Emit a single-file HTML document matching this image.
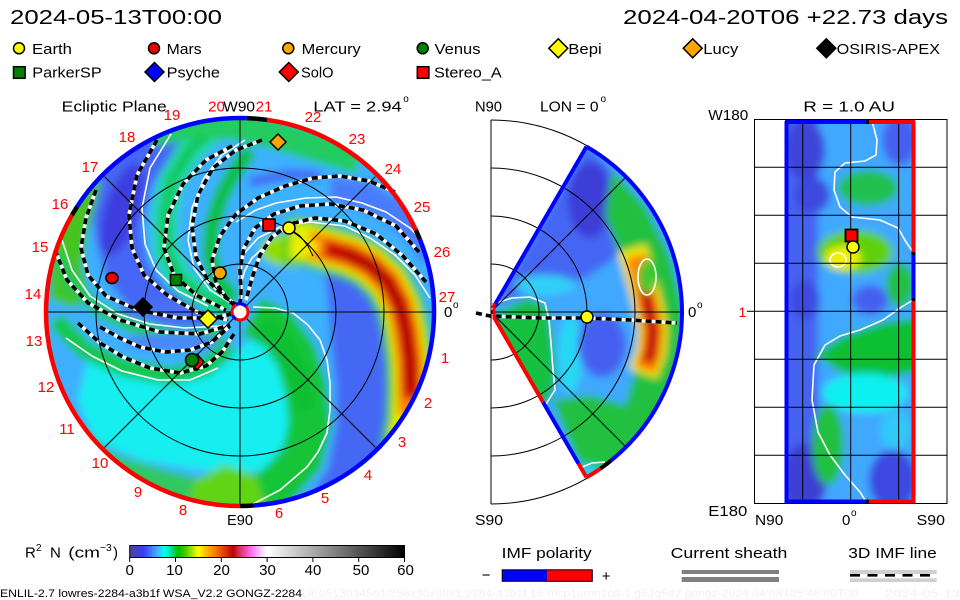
<!DOCTYPE html>
<html><head><meta charset="utf-8"><style>
html,body{margin:0;padding:0;background:#fff;}
svg{display:block;}
text{font-family:"Liberation Sans",Arial,sans-serif;}
.wl{fill:none;stroke:#fff;stroke-width:3.6;stroke-linejoin:round;}
.dl{fill:none;stroke:#000;stroke-width:3.6;stroke-dasharray:6 4;}
.wc{fill:none;stroke:#fff;stroke-width:1.6;stroke-linejoin:round;}
.gl{fill:none;stroke:#000;stroke-width:1;}
.rn{fill:#f00;font-size:15px;text-anchor:middle;}
</style></head><body>
<svg width="960" height="600" viewBox="0 0 960 600" xmlns="http://www.w3.org/2000/svg">
<defs>
<clipPath id="cDisk"><circle cx="240" cy="312" r="194"/></clipPath>
<clipPath id="cWedge"><path d="M491,312 L586.5,146.6 A191 191 0 0 1 586.5,477.4 Z"/></clipPath>
<clipPath id="cRect"><rect x="786" y="121" width="128" height="382"/></clipPath>
<filter id="bl" x="-10%" y="-10%" width="120%" height="120%"><feGaussianBlur stdDeviation="4"/></filter>
<linearGradient id="cmap" x1="0" x2="1" y1="0" y2="0">
<stop offset="0" stop-color="#484890"/>
<stop offset="0.025" stop-color="#4040c8"/>
<stop offset="0.05" stop-color="#3c3cf0"/>
<stop offset="0.075" stop-color="#4070ff"/>
<stop offset="0.1" stop-color="#40b0ff"/>
<stop offset="0.125" stop-color="#00ffff"/>
<stop offset="0.15" stop-color="#00e0a0"/>
<stop offset="0.175" stop-color="#00c000"/>
<stop offset="0.2" stop-color="#40c800"/>
<stop offset="0.225" stop-color="#a0e000"/>
<stop offset="0.25" stop-color="#ffff00"/>
<stop offset="0.275" stop-color="#ffc000"/>
<stop offset="0.3" stop-color="#ff9000"/>
<stop offset="0.325" stop-color="#f06000"/>
<stop offset="0.35" stop-color="#e03000"/>
<stop offset="0.375" stop-color="#c00000"/>
<stop offset="0.4" stop-color="#d83060"/>
<stop offset="0.425" stop-color="#f050c0"/>
<stop offset="0.45" stop-color="#ff80ff"/>
<stop offset="0.475" stop-color="#ffc8ff"/>
<stop offset="0.5" stop-color="#ffffff"/>
<stop offset="1" stop-color="#000000"/>
</linearGradient>
</defs>

<!-- ===== Header ===== -->
<text x="10" y="24" font-size="20" textLength="212" lengthAdjust="spacingAndGlyphs">2024-05-13T00:00</text>
<text x="623" y="24" font-size="20" textLength="325" lengthAdjust="spacingAndGlyphs">2024-04-20T06 +22.73 days</text>

<!-- ===== Legend ===== -->
<g stroke="#000" stroke-width="1.5">
<circle cx="19" cy="48.3" r="5.5" fill="#ffff00"/>
<circle cx="154" cy="48.3" r="5.5" fill="#ee0000"/>
<circle cx="288.3" cy="48.3" r="5.5" fill="#ffa500"/>
<circle cx="422.7" cy="48.3" r="5.5" fill="#008000"/>
<path d="M558.3,38.8 L567.8,48.3 L558.3,57.8 L548.8,48.3 Z" fill="#ffff00"/>
<path d="M692.7,38.8 L702.2,48.3 L692.7,57.8 L683.2,48.3 Z" fill="#ffa500"/>
<path d="M826.3,38.8 L835.8,48.3 L826.3,57.8 L816.8,48.3 Z" fill="#000"/>
<rect x="13.5" y="66.7" width="11.6" height="11.6" fill="#008000"/>
<path d="M154.5,62.5 L164,72 L154.5,81.5 L145,72 Z" fill="#0000ff"/>
<path d="M288.8,62.5 L298.3,72 L288.8,81.5 L279.3,72 Z" fill="#ff0000"/>
<rect x="417.3" y="66.7" width="11.6" height="11.6" fill="#ff0000"/>
</g>
<g font-size="15">
<text x="32" y="54" textLength="40" lengthAdjust="spacingAndGlyphs">Earth</text>
<text x="166.7" y="54" textLength="35" lengthAdjust="spacingAndGlyphs">Mars</text>
<text x="301.7" y="54" textLength="59" lengthAdjust="spacingAndGlyphs">Mercury</text>
<text x="434.5" y="54" textLength="46" lengthAdjust="spacingAndGlyphs">Venus</text>
<text x="568.3" y="54" textLength="33.4" lengthAdjust="spacingAndGlyphs">Bepi</text>
<text x="703.3" y="54" textLength="35" lengthAdjust="spacingAndGlyphs">Lucy</text>
<text x="836.7" y="54" textLength="103.3" lengthAdjust="spacingAndGlyphs">OSIRIS-APEX</text>
<text x="32.3" y="77.7" textLength="69.4" lengthAdjust="spacingAndGlyphs">ParkerSP</text>
<text x="166.7" y="77.7" textLength="53.3" lengthAdjust="spacingAndGlyphs">Psyche</text>
<text x="301" y="77.7" textLength="32.5" lengthAdjust="spacingAndGlyphs">SolO</text>
<text x="434" y="77.7" textLength="67.7" lengthAdjust="spacingAndGlyphs">Stereo_A</text>
</g>

<!-- ===== Titles ===== -->
<g font-size="15">
<text x="61.7" y="111.5" textLength="105" lengthAdjust="spacingAndGlyphs">Ecliptic Plane</text>
<text x="223.3" y="111.5" textLength="31.7" lengthAdjust="spacingAndGlyphs">W90</text>
<text x="313.3" y="111.5" textLength="88.4" lengthAdjust="spacingAndGlyphs">LAT = 2.94</text>
<text x="403.3" y="102" font-size="10">o</text>
<text x="475" y="111.5" textLength="27" lengthAdjust="spacingAndGlyphs">N90</text>
<text x="540" y="111.5" textLength="58.5" lengthAdjust="spacingAndGlyphs">LON = 0</text>
<text x="600.5" y="102" font-size="10">o</text>
<text x="803.3" y="111.5" textLength="91.7" lengthAdjust="spacingAndGlyphs">R = 1.0 AU</text>
<text x="708.3" y="120" textLength="40" lengthAdjust="spacingAndGlyphs">W180</text>
</g>

<!-- ===== Left disk field ===== -->
<g clip-path="url(#cDisk)">
<g filter="url(#bl)">
<circle cx="240" cy="312" r="205" fill="#3cb0ff"/>
<!-- big cyan lower region -->
<path d="M90,350 L150,365 L220,368 L250,340 L275,352 L292,400 L298,450 L270,472 L200,470 L140,460 L95,440 L78,400 Z" fill="#14eef0"/>
<!-- bottom-left green along edge -->
<path d="M55,430 L90,465 L140,492 L200,510 L215,482 L165,470 L115,455 L75,425 Z" fill="#30c860"/>
<!-- upper-left blue -->
<path d="M82,186 L110,150 L150,128 L190,118 L202,126 L176,150 L152,185 L142,225 L147,262 L166,288 L200,306 L228,314 L200,328 L160,325 L128,306 L106,278 L97,245 L92,215 Z" fill="#4466f4"/>
<ellipse cx="122" cy="210" rx="17" ry="48" transform="rotate(18 122 210)" fill="#3c3ce0"/>
<path d="M48,265 L54,232 L68,205 L88,183 L102,178 L97,200 L87,235 L83,268 L90,295 L75,308 L50,300 Z" fill="#44c424"/>
<polyline points="215,128 190,150 172,180 165,215 166,250 178,277 200,296 230,310" fill="none" stroke="#20d8a8" stroke-width="26"/>
<polyline points="215,128 190,150 172,180 165,215 166,250 178,277 200,296 230,310" fill="none" stroke="#10c850" stroke-width="10"/>
<polyline points="250,150 236,170 222,195 212,225 210,255 218,280 234,300" fill="none" stroke="#10c040" stroke-width="16"/>
<polyline points="150,132 200,122 240,126 280,136 320,148 360,160" fill="none" stroke="#20cc60" stroke-width="30"/>
<polyline points="250,182 290,174 320,176" fill="none" stroke="#4466f4" stroke-width="10"/>
<path d="M330,176 L370,183 L400,200 L420,222 L432,258 L424,264 L404,238 L380,218 L350,206 L330,200 Z" fill="#4a7cfc"/>
<polyline points="58,255 72,285 100,310 135,327 180,337 222,333" fill="none" stroke="#20c858" stroke-width="14"/>
<polyline points="55,320 85,350 125,368 170,376 205,368 230,345" fill="none" stroke="#18c848" stroke-width="18"/>
<ellipse cx="160" cy="310" rx="40" ry="10" fill="#4a70f8"/>
<ellipse cx="172" cy="342" rx="48" ry="9" fill="#4a86fc"/>
<!-- lower-right big blue -->
<path d="M325,270 L345,268 L365,282 L382,305 L392,335 L397,370 L402,400 L420,430 L428,448 L405,472 L375,490 L340,502 L305,505 L328,468 L336,428 L336,385 L331,345 L328,300 Z" fill="#4468f4"/>
<!-- green arm -->
<polyline points="252,316 278,330 296,355 306,388 310,425 302,458 278,485 240,506" fill="none" stroke="#18c438" stroke-width="42"/>
<polyline points="262,325 284,345 298,375 306,410" fill="none" stroke="#10c030" stroke-width="20"/>
<path d="M195,480 L225,465 L255,475 L268,512 L225,512 L188,505 Z" fill="#62d412"/>
<ellipse cx="292" cy="250" rx="32" ry="17" fill="#90dc00"/>
<polyline points="285,240 305,242 325,248 350,255 370,265 388,282 400,305 406,330 410,360 411,390 410,420 404,452" fill="none" stroke="#40c820" stroke-width="48"/>
<polyline points="290,241 305,242 325,248 350,255 370,265 388,282 400,305 406,330 410,360 411,390 410,420 406,440" fill="none" stroke="#e0f000" stroke-width="36"/>
<polyline points="308,244 325,248 350,255 370,265 388,282 400,305 406,330 410,360 411,390 411,415" fill="none" stroke="#ff8000" stroke-width="27"/>
<polyline points="325,248 350,255 370,265 388,282 400,305 406,330 410,360 411,398" fill="none" stroke="#c80000" stroke-width="16"/>
<polyline points="345,254 370,265 388,282 400,305 406,330 410,360 411,385" fill="none" stroke="#b00000" stroke-width="6"/>
<ellipse cx="305" cy="247" rx="14" ry="7" fill="#f0f000"/>
</g>
</g>

<!-- disk overlays: white contours -->
<g class="wc">
<polyline points="253,307 275,308 293,313 308,325 320,340 327,360 330,383 330,410 327,433 318,452 307,467 280,490 253,504"/>
<polyline points="236,222 256,210 276,203 306,198 336,197 362,203 386,212 410,228 428,246"/>
<polyline points="240,258 258,238 282,226 310,222 345,226 370,238 395,255 415,275 430,298"/>
<polyline points="62,240 72,270 90,296 118,314 150,324 185,328 222,326"/>
<polyline points="66,338 92,356 122,371 158,380 190,380 218,368"/>
<polyline points="171,134 150,168 142,208 145,244 156,270 178,291 208,306"/>
<polyline points="240,287 245,270 252,258 262,249"/>
<polyline points="245,140 222,155 204,178 192,208 188,240 194,268 210,290 232,304"/>
</g>
<!-- dashed lines white base -->
<g class="wl">
<polyline points="395,192 369,181 340,176 313,178 285,186 258,198 236,214 220,236 212,260 216,283 228,300 238,308"/>
<polyline points="419,252 396,226 363,210 330,204 300,206 274,214 255,228 244,248 240,270 241,292 240,305"/>
<polyline points="426,282 403,256 376,234 345,221 315,218 290,224 272,237 260,255 252,278 246,300"/>
<polyline points="157,140 137,175 129,215 132,248 144,275 167,295 197,312 228,320"/>
<polyline points="232,146 206,160 183,184 168,215 164,248 174,275 196,295 226,310"/>
<polyline points="262,140 236,150 213,168 198,195 192,226 196,257 208,281 226,298 238,306"/>
<polyline points="55,250 67,280 88,303 120,320 160,332 200,334 230,325"/>
<polyline points="96,190 86,218 81,248 88,275 106,296 138,310 178,318 214,318 236,313"/>
<polyline points="78,323 100,343 123,357 150,368 180,373 206,366 222,352 234,334"/>
<polyline points="100,327 120,338 140,347 165,352 190,350 212,342 230,326"/>
</g>
<g class="dl">
<polyline points="395,192 369,181 340,176 313,178 285,186 258,198 236,214 220,236 212,260 216,283 228,300 238,308"/>
<polyline points="419,252 396,226 363,210 330,204 300,206 274,214 255,228 244,248 240,270 241,292 240,305"/>
<polyline points="426,282 403,256 376,234 345,221 315,218 290,224 272,237 260,255 252,278 246,300"/>
<polyline points="157,140 137,175 129,215 132,248 144,275 167,295 197,312 228,320"/>
<polyline points="232,146 206,160 183,184 168,215 164,248 174,275 196,295 226,310"/>
<polyline points="262,140 236,150 213,168 198,195 192,226 196,257 208,281 226,298 238,306"/>
<polyline points="55,250 67,280 88,303 120,320 160,332 200,334 230,325"/>
<polyline points="96,190 86,218 81,248 88,275 106,296 138,310 178,318 214,318 236,313"/>
<polyline points="78,323 100,343 123,357 150,368 180,373 206,366 222,352 234,334"/>
<polyline points="100,327 120,338 140,347 165,352 190,350 212,342 230,326"/>
</g>

<!-- disk grid -->
<g class="gl">
<circle cx="240" cy="312" r="48"/>
<circle cx="240" cy="312" r="96"/>
<circle cx="240" cy="312" r="144"/>
<line x1="46" y1="312" x2="434" y2="312"/>
<line x1="240" y1="118" x2="240" y2="506"/>
<line x1="104.6" y1="176.6" x2="375.4" y2="447.4"/>
<line x1="104.6" y1="447.4" x2="375.4" y2="176.6"/>
<polyline points="289,228 300,236 308,246 313,256" stroke-width="1"/>
</g>

<!-- disk markers -->
<g stroke="#000" stroke-width="1.5">
<path d="M278,134 L286,142 L278,150 L270,142 Z" fill="#ffa500"/>
<rect x="263" y="219" width="12" height="12" fill="#ff0000"/>
<circle cx="289" cy="228" r="6" fill="#ffff00"/>
<circle cx="220" cy="273" r="6" fill="#ffa500"/>
<rect x="170.5" y="274.5" width="11" height="11" fill="#008000"/>
<ellipse cx="112" cy="278" rx="6" ry="5.5" fill="#ee0000"/>
<path d="M143,298 L152,307 L143,316 L134,307 Z" fill="#000"/>
<path d="M208,310 L217,319 L208,328 L199,319 Z" fill="#ffff00"/>
<path d="M197,354 L204,362 L197,370 L190,362 Z" fill="#ff0000"/>
<circle cx="192" cy="360" r="6.5" fill="#008000"/>
</g>
<!-- sun -->
<circle cx="240" cy="312" r="8" fill="#fff" stroke="#ff0000" stroke-width="3"/>
<path d="M236,304.3 A8 8 0 0 1 246,306.5" fill="none" stroke="#0000ff" stroke-width="3"/>
<path d="M232.6,315.5 A8 8 0 0 0 236,319" fill="none" stroke="#0000ff" stroke-width="3"/>

<!-- disk border ring -->
<g fill="none" stroke-width="4.5">
<path d="M267,119.9 A194 194 0 0 1 415.8,230" stroke="#ff0000"/>
<path d="M415.8,230 A194 194 0 0 1 419.9,239.3" stroke="#000"/>
<path d="M419.9,239.3 A194 194 0 0 1 253.5,505.5" stroke="#0000ff"/>
<path d="M253.5,505.5 A194 194 0 0 1 240,506" stroke="#000"/>
<path d="M240,506 A194 194 0 0 1 72,215" stroke="#ff0000"/>
<path d="M72,215 A194 194 0 0 1 77.3,206.3" stroke="#000"/>
<path d="M77.3,206.3 A194 194 0 0 1 246.8,118.1" stroke="#0000ff"/>
<path d="M246.8,118.1 A194 194 0 0 1 267,119.9" stroke="#000"/>
</g>

<!-- disk labels -->
<g class="rn">
<text x="172" y="120">19</text>
<text x="216.5" y="111.5">20</text>
<text x="264" y="111.5">21</text>
<text x="313" y="122">22</text>
<text x="357" y="144">23</text>
<text x="393" y="174">24</text>
<text x="422" y="212">25</text>
<text x="442" y="257">26</text>
<text x="447" y="302">27</text>
<text x="445" y="363">1</text>
<text x="428" y="408">2</text>
<text x="402" y="447">3</text>
<text x="368" y="480">4</text>
<text x="325" y="503">5</text>
<text x="279" y="518">6</text>
<text x="183" y="515">8</text>
<text x="138" y="497">9</text>
<text x="100" y="468">10</text>
<text x="67" y="434">11</text>
<text x="46" y="392">12</text>
<text x="34" y="346">13</text>
<text x="33" y="299">14</text>
<text x="40" y="252">15</text>
<text x="60" y="209">16</text>
<text x="90" y="172">17</text>
<text x="127" y="142">18</text>
</g>
<text x="227" y="525" font-size="15" textLength="26" lengthAdjust="spacingAndGlyphs">E90</text>
<text x="444" y="317" font-size="15">0</text>
<text x="453" y="308" font-size="10">o</text>

<!-- ===== Middle wedge ===== -->
<g clip-path="url(#cWedge)">
<g filter="url(#bl)">
<rect x="480" y="130" width="220" height="360" fill="#40a8ff"/>
<path d="M493,306 L586,146 L612,170 L628,215 L628,245 L610,262 L585,278 L555,287 L525,293 L500,302 Z" fill="#4466f4"/>
<ellipse cx="590" cy="200" rx="22" ry="38" fill="#3c3cd8"/>
<ellipse cx="545" cy="285" rx="30" ry="10" fill="#30d0f8"/>
<path d="M612,170 L645,205 L670,255 L684,312 L678,370 L657,420 L618,465 L595,472 L598,440 L625,405 L640,355 L635,300 L620,255 L605,215 Z" fill="#20c040"/>
<polyline points="632,248 640,275 648,305 653,330 651,352 643,374" fill="none" stroke="#e8e800" stroke-width="30"/>
<polyline points="636,256 642,280 648,305 653,330 651,352 645,370" fill="none" stroke="#ff8000" stroke-width="21"/>
<polyline points="644,285 648,305 653,330 651,352 647,362" fill="none" stroke="#c40010" stroke-width="12"/>
<ellipse cx="647" cy="277" rx="9" ry="17" fill="#40c830"/>
<path d="M495,313 L528,298 L548,307 L553,343 L556,383 L546,405 L530,400 L512,365 L498,335 Z" fill="#18c040"/>
<ellipse cx="570" cy="355" rx="12" ry="38" fill="#28d8f4"/>
<ellipse cx="602" cy="345" rx="24" ry="32" fill="#4460f0"/>
<path d="M552,400 L590,395 L625,405 L640,420 L625,450 L600,468 L578,462 Z" fill="#20c040"/>
<ellipse cx="590" cy="472" rx="12" ry="6" fill="#30d0f8"/>
</g>
</g>
<g class="wc">
<polyline points="496,303 512,298 530,297 545,303 549,320 551,343 553,370 555,390 546,404"/>
<ellipse cx="647" cy="277" rx="9" ry="18"/>
<polyline points="580,468 592,463 605,462"/>
</g>
<polyline class="wl" points="476,313 490,316 493,316 540,318 587,318 630,320 677,323"/>
<polyline class="dl" points="476,313 490,316 493,316 540,318 587,318 630,320 677,323"/>
<g class="gl">
<line x1="491" y1="120" x2="491" y2="504"/>
<line x1="491" y1="312" x2="682" y2="312"/>
<line x1="491" y1="312" x2="626" y2="177"/>
<line x1="491" y1="312" x2="626" y2="447"/>
<path d="M491,264 A48 48 0 0 1 491,360"/>
<path d="M491,216 A96 96 0 0 1 491,408"/>
<path d="M491,168 A144 144 0 0 1 491,456"/>
<path d="M491,120 A192 192 0 0 1 491,504"/>
</g>
<circle cx="587" cy="317" r="6" fill="#ffff00" stroke="#000" stroke-width="1.5"/>
<g fill="none" stroke-width="4">
<line x1="493" y1="308" x2="586.5" y2="146.6" stroke="#0000ff"/>
<path d="M586.5,146.6 A191 191 0 0 1 611.2,460.4" stroke="#0000ff"/>
<path d="M611.2,460.4 A191 191 0 0 1 600.6,468.5" stroke="#000"/>
<path d="M600.6,468.5 A191 191 0 0 1 586.5,477.4" stroke="#ff0000"/>
<line x1="586.5" y1="477.4" x2="578.5" y2="463.6" stroke="#ff0000"/>
<line x1="578.5" y1="463.6" x2="543" y2="402.1" stroke="#0000ff"/>
<line x1="543" y1="402.1" x2="494" y2="317.2" stroke="#ff0000"/>
<line x1="494" y1="303" x2="494" y2="318" stroke="#ff0000" stroke-width="3"/>
</g>
<text x="475" y="525" font-size="15" textLength="28" lengthAdjust="spacingAndGlyphs">S90</text>
<text x="688" y="317" font-size="15">0</text>
<text x="697" y="308" font-size="10">o</text>

<!-- ===== Right panel ===== -->
<g clip-path="url(#cRect)">
<g filter="url(#bl)">
<rect x="770" y="110" width="160" height="400" fill="#40a8ff"/>
<rect x="770" y="110" width="48" height="400" fill="#4462f0"/>
<ellipse cx="805" cy="150" rx="20" ry="30" fill="#3c44d8"/>
<ellipse cx="805" cy="478" rx="22" ry="35" fill="#3c40d0"/>
<ellipse cx="805" cy="300" rx="15" ry="20" fill="#3c4ce0"/>
<ellipse cx="900" cy="140" rx="18" ry="25" fill="#4460f0"/>
<ellipse cx="812" cy="195" rx="18" ry="18" fill="#3c48e0"/>
<ellipse cx="868" cy="188" rx="30" ry="18" fill="#20c050"/>
<ellipse cx="855" cy="252" rx="38" ry="22" fill="#60d010"/>
<ellipse cx="843" cy="258" rx="18" ry="12" fill="#f0f000"/>
<ellipse cx="900" cy="285" rx="14" ry="22" fill="#20c040"/>
<ellipse cx="870" cy="300" rx="18" ry="15" fill="#4460f0"/>
<path d="M815,355 L845,335 L885,322 L920,318 L920,372 L880,378 L840,372 Z" fill="#10c030"/>
<ellipse cx="865" cy="393" rx="42" ry="20" fill="#10f0f0"/>
<ellipse cx="828" cy="445" rx="16" ry="40" fill="#20c040"/>
<ellipse cx="895" cy="430" rx="15" ry="20" fill="#30c8f8"/>
<ellipse cx="893" cy="480" rx="24" ry="30" fill="#3c48e0"/>
</g>
</g>
<g class="wc">
<polyline points="872,121 877,140 876,155 865,161 845,163 835,172 834,190 840,207 852,217 880,220 898,228 906,242 913,252"/>
<polyline points="913,300 900,308 883,320 860,330 840,336 825,345 814,365 812,400 818,432 830,455 845,475 860,492 867,503"/>
<ellipse cx="838" cy="260" rx="8" ry="7"/>
</g>
<g class="gl">
<rect x="754.5" y="119.5" width="192.5" height="384"/>
<line x1="802.7" y1="119.5" x2="802.7" y2="503.5"/>
<line x1="850.7" y1="119.5" x2="850.7" y2="503.5"/>
<line x1="898.7" y1="119.5" x2="898.7" y2="503.5"/>
<line x1="754.5" y1="167.3" x2="947" y2="167.3"/>
<line x1="754.5" y1="215.3" x2="947" y2="215.3"/>
<line x1="754.5" y1="263.3" x2="947" y2="263.3"/>
<line x1="754.5" y1="311.3" x2="947" y2="311.3"/>
<line x1="754.5" y1="359.3" x2="947" y2="359.3"/>
<line x1="754.5" y1="407.3" x2="947" y2="407.3"/>
<line x1="754.5" y1="455.3" x2="947" y2="455.3"/>
<line x1="747" y1="311.3" x2="754.5" y2="311.3"/>
</g>
<g stroke-width="4">
<line x1="786.5" y1="121" x2="786.5" y2="503" stroke="#0000ff"/>
<line x1="785" y1="122" x2="866" y2="122" stroke="#0000ff"/>
<line x1="866" y1="122" x2="869" y2="122" stroke="#000"/>
<line x1="869" y1="122" x2="915" y2="122" stroke="#ff0000"/>
<line x1="785" y1="501.5" x2="866" y2="501.5" stroke="#0000ff"/>
<line x1="866" y1="501.5" x2="869" y2="501.5" stroke="#000"/>
<line x1="869" y1="501.5" x2="915" y2="501.5" stroke="#ff0000"/>
<line x1="913.5" y1="121" x2="913.5" y2="252" stroke="#ff0000"/>
<line x1="913.5" y1="252" x2="913.5" y2="255" stroke="#000"/>
<line x1="913.5" y1="255" x2="913.5" y2="298" stroke="#0000ff"/>
<line x1="913.5" y1="298" x2="913.5" y2="301" stroke="#000"/>
<line x1="913.5" y1="301" x2="913.5" y2="503" stroke="#ff0000"/>
</g>
<rect x="845.5" y="229.5" width="12" height="12" fill="#ff0000" stroke="#000" stroke-width="1.8"/>
<circle cx="853" cy="247" r="6" fill="#ffff00" stroke="#000" stroke-width="1.5"/>
<text x="708.3" y="516" font-size="15" textLength="39" lengthAdjust="spacingAndGlyphs">E180</text>
<text x="738.5" y="317" font-size="14" fill="#ff0000">1</text>
<text x="755" y="525" font-size="15" textLength="28.3" lengthAdjust="spacingAndGlyphs">N90</text>
<text x="842" y="525" font-size="15">0</text>
<text x="851" y="516" font-size="10">o</text>
<text x="916.7" y="525" font-size="15" textLength="28.3" lengthAdjust="spacingAndGlyphs">S90</text>

<!-- ===== Colorbar ===== -->
<g font-size="15">
<text x="25" y="557.5">R</text>
<text x="36" y="551" font-size="10">2</text>
<text x="50" y="557.5">N</text>
<text x="68.3" y="557.5" textLength="31.7" lengthAdjust="spacingAndGlyphs">(cm</text>
<text x="100" y="551" font-size="10" textLength="11.7" lengthAdjust="spacingAndGlyphs">−3</text>
<text x="113" y="557.5">)</text>
</g>
<rect x="129.7" y="545.5" width="274.8" height="12" fill="url(#cmap)" stroke="#000" stroke-width="1"/>
<g stroke="#000" stroke-width="1">
<line x1="129.7" y1="557.5" x2="129.7" y2="562"/>
<line x1="175.5" y1="557.5" x2="175.5" y2="562"/>
<line x1="221.3" y1="557.5" x2="221.3" y2="562"/>
<line x1="267.1" y1="557.5" x2="267.1" y2="562"/>
<line x1="312.9" y1="557.5" x2="312.9" y2="562"/>
<line x1="358.7" y1="557.5" x2="358.7" y2="562"/>
<line x1="404.5" y1="557.5" x2="404.5" y2="562"/>
</g>
<g font-size="15" text-anchor="middle">
<text x="129.7" y="575">0</text>
<text x="174.5" y="575">10</text>
<text x="221.5" y="575">20</text>
<text x="267.5" y="575">30</text>
<text x="313" y="575">40</text>
<text x="361" y="575">50</text>
<text x="405.5" y="575">60</text>
</g>

<!-- ===== IMF legends ===== -->
<text x="501.7" y="558" font-size="15" textLength="90" lengthAdjust="spacingAndGlyphs">IMF polarity</text>
<text x="481.7" y="580" font-size="15">−</text>
<rect x="502.2" y="569.8" width="45.1" height="11.5" fill="#0000ff"/>
<rect x="547.3" y="569.8" width="45" height="11.5" fill="#ff0000"/>
<rect x="502.2" y="569.8" width="90.1" height="11.5" fill="none" stroke="#000" stroke-width="1"/>
<text x="601.7" y="581" font-size="15">+</text>
<text x="670.7" y="558" font-size="15" textLength="116.6" lengthAdjust="spacingAndGlyphs">Current sheath</text>
<rect x="681.7" y="570" width="97.3" height="4" fill="#808080"/>
<rect x="681.7" y="577" width="97.3" height="5" fill="#808080"/>
<text x="848.3" y="558" font-size="15" textLength="88.4" lengthAdjust="spacingAndGlyphs">3D IMF line</text>
<rect x="850" y="570" width="86.7" height="12" fill="#d0d0d0"/>
<rect x="850" y="574" width="86.7" height="4.3" fill="#fff"/>
<line x1="850" y1="575.3" x2="936.7" y2="575.3" stroke="#000" stroke-width="2.6" stroke-dasharray="10 7.5"/>

<!-- ===== Footer ===== -->
<text x="0" y="597" font-size="11" textLength="302" lengthAdjust="spacingAndGlyphs">ENLIL-2.7 lowres-2284-a3b1f WSA_V2.2 GONGZ-2284</text>
<text x="302" y="597" font-size="11" fill="#f0f0f0" textLength="556" lengthAdjust="spacingAndGlyphs">UE0513034501/256x30x90x1.2284-a3b1f.16-mcp1umn1cd-1.g53q5d2.gongz-2024:04:08T05:46:00T00</text>
<text x="885" y="597" font-size="11" fill="#f0f0f0" textLength="75" lengthAdjust="spacingAndGlyphs">2024-05-13</text>
</svg>
</body></html>
